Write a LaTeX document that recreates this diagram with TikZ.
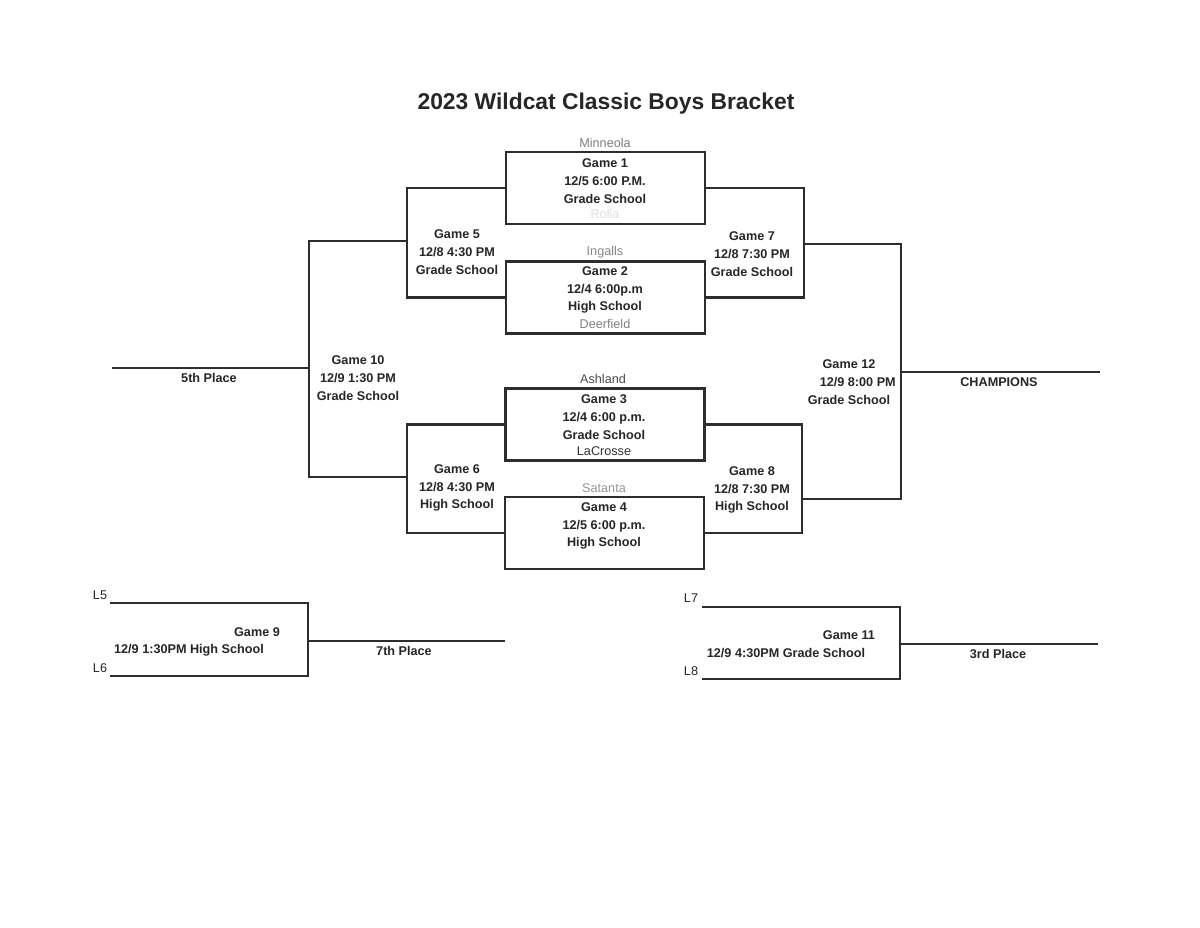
\documentclass[tikz,border=0pt]{standalone}
\usepackage{fontspec}
\setmainfont{Liberation Sans}
\definecolor{ink}{RGB}{42,47,44}
\definecolor{txt}{RGB}{38,38,38}
\begin{document}
\begin{tikzpicture}[x=0.02cm,y=-0.02cm,
  line/.style={draw=ink,line width=1.4pt,line join=miter},
  gbox/.style={draw=ink,line width=1.4pt,minimum width=3.98cm,minimum height=1.44cm,inner sep=0pt},
  gtxt/.style={text=txt,align=center,font=\bfseries\fontsize{7.2}{10.2}\selectfont,inner sep=0pt},
  team/.style={align=center,font=\fontsize{7.2}{9}\selectfont,inner sep=0pt},
  lbl/.style={text=txt,font=\fontsize{7.2}{9}\selectfont,inner sep=0pt}]
\useasboundingbox[fill=white] (0,0) rectangle (1200,928);
% title
\node[text=txt,font=\bfseries\fontsize{13}{15}\selectfont,inner sep=0pt] (title) at (606,104) {2023 Wildcat Classic Boys Bracket};
% first round boxes
\node[gbox] (g1) at (605.5,188) {};
\node[gbox] (g2) at (605.5,297.5) {};
\node[gbox] (g3) at (605,424.5) {};
\node[gbox] (g4) at (604.5,533) {};
% team names
\node[team,text={rgb,255:red,125;green,125;blue,125}] (t1) at (605,143) {Minneola};
\node[team,text={rgb,255:red,222;green,222;blue,222}] (t2) at (605,214) {Rolla};
\node[team,text={rgb,255:red,135;green,135;blue,135}] (t3) at (605,252) {Ingalls};
\node[team,text={rgb,255:red,130;green,130;blue,130}] (t4) at (605,324) {Deerfield};
\node[team,text={rgb,255:red,75;green,75;blue,75}] (t5) at (603,379) {Ashland};
\node[team,text={rgb,255:red,50;green,50;blue,50}] (t6) at (604,451) {LaCrosse};
\node[team,text={rgb,255:red,150;green,150;blue,150}] (t7) at (604,488) {Satanta};
% game texts in boxes
\node[gtxt] (x1) at (605,181) {Game 1\\12/5 6:00 P.M.\\Grade School};
\node[gtxt] (x2) at (605,290) {Game 2\\12/4 6:00p.m\\High School};
\node[gtxt] (x3) at (604,417) {Game 3\\12/4 6:00 p.m.\\Grade School};
\node[gtxt] (x4) at (604,526) {Game 4\\12/5 6:00 p.m.\\High School};
% bracket coordinates (on the verticals)
\coordinate (m5) at (407,241);
\coordinate (m6) at (407,477);
\coordinate (m10) at (309,368);
\coordinate (fifth) at (112,368);
\coordinate (m7) at (804,244);
\coordinate (m8) at (802,499);
\coordinate (m12) at (901,372);
\coordinate (champ) at (1100,372);
% connectors
\draw[line] (g1.west) -| (m5) |- (g2.west);
\draw[line] (g3.west) -| (m6) |- (g4.west);
\draw[line] (m5) -| (m10) |- (m6);
\draw[line] (m10) -- (fifth);
\draw[line] (g1.east) -| (m7) |- (g2.east);
\draw[line] (g3.east) -| (m8) |- (g4.east);
\draw[line] (m7) -| (m12) |- (m8);
\draw[line] (m12) -- (champ);
% later round texts
\node[gtxt] (x5) at (457,252) {Game 5\\12/8 4:30 PM\\Grade School};
\node[gtxt] (x7) at (752,254) {Game 7\\12/8 7:30 PM\\Grade School};
\node[gtxt] (x6) at (457,488) {Game 6\\12/8 4:30 PM\\High School};
\node[gtxt] (x8) at (752,490) {Game 8\\12/8 7:30 PM\\High School};
\node[gtxt] (x10) at (358,378) {Game 10\\12/9 1:30 PM\\Grade School};
\node[gtxt] (x12) at (849,382) {Game 12\\\hspace*{10pt}12/9 8:00 PM\\Grade School};
\node[gtxt] (p5) at (209,378) {5th Place};
\node[gtxt] (pc) at (999,382) {CHAMPIONS};
% consolation: game 9
\coordinate (l5e) at (110,603);
\coordinate (l6e) at (110,676);
\coordinate (m9) at (308,641);
\coordinate (seventh) at (505,641);
\draw[line] (l5e) -| (m9) |- (l6e);
\draw[line] (m9) -- (seventh);
\node[lbl] (L5) at (100,595) {L5};
\node[lbl] (L6) at (100,668) {L6};
\node[gtxt] (x9a) at (257,632) {Game 9};
\node[gtxt] (x9b) at (189,650) {12/9 1:30PM High School};
\node[gtxt] (p7) at (404,651) {7th Place};
% consolation: game 11
\coordinate (l7e) at (702,607);
\coordinate (l8e) at (702,679);
\coordinate (m11) at (900,644);
\coordinate (third) at (1098,644);
\draw[line] (l7e) -| (m11) |- (l8e);
\draw[line] (m11) -- (third);
\node[lbl] (L7) at (691,598) {L7};
\node[lbl] (L8) at (691,671) {L8};
\node[gtxt] (x11a) at (849,635) {Game 11};
\node[gtxt] (x11b) at (786,653) {12/9 4:30PM Grade School};
\node[gtxt] (p3) at (998,654) {3rd Place};
\end{tikzpicture}
\end{document}
